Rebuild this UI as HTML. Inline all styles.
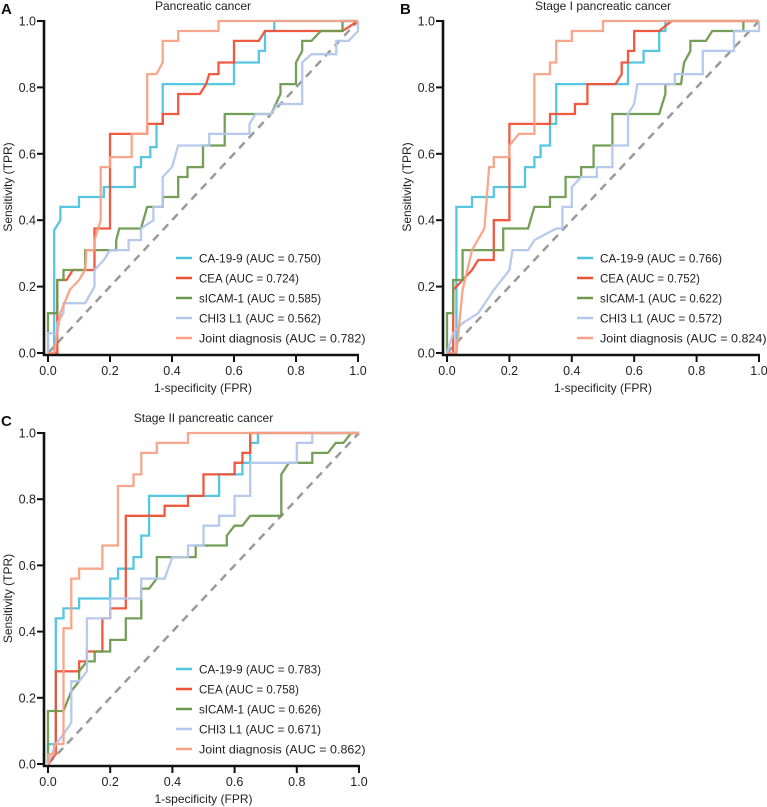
<!DOCTYPE html>
<html><head><meta charset="utf-8"><style>
body{margin:0;background:#fff;}
svg{display:block;font-family:"Liberation Sans",sans-serif;}
</style></head><body>
<svg id="fig" width="767" height="807" viewBox="0 0 767 807"></svg>
<script>
const seriesNames = ["CA-19-9","CEA","sICAM-1","CHI3 L1","Joint diagnosis"];
const panelTitles = ["Pancreatic cancer","Stage I pancreatic cancer","Stage II pancreatic cancer"];
const panelLetters = ["A","B","C"];
const aucA = ["0.750","0.724","0.585","0.562","0.782"];
const aucB = ["0.766","0.752","0.622","0.572","0.824"];
const aucC = ["0.783","0.758","0.626","0.671","0.862"];
const ticks = [0,0.2,0.4,0.6,0.8,1.0];
const tickLabels = ["0.0","0.2","0.4","0.6","0.8","1.0"];

const A_ca = [[0,0],[0.02,0],[0.02,0.37],[0.04,0.4],[0.04,0.44],[0.1,0.44],[0.1,0.47],[0.18,0.47],[0.18,0.5],[0.28,0.5],[0.28,0.56],[0.3,0.56],[0.3,0.59],[0.33,0.59],[0.33,0.62],[0.35,0.62],[0.35,0.69],[0.37,0.69],[0.37,0.81],[0.6,0.81],[0.6,0.875],[0.68,0.875],[0.68,0.91],[0.7,0.91],[0.7,0.97],[0.73,0.97],[0.73,1],[1,1]];
const A_cea = [[0,0],[0.03,0],[0.03,0.22],[0.06,0.22],[0.08,0.25],[0.15,0.25],[0.15,0.375],[0.2,0.375],[0.2,0.66],[0.32,0.66],[0.32,0.69],[0.37,0.69],[0.37,0.72],[0.42,0.72],[0.42,0.78],[0.49,0.78],[0.51,0.81],[0.52,0.84],[0.55,0.84],[0.55,0.875],[0.6,0.875],[0.6,0.94],[0.68,0.94],[0.7,0.97],[0.95,0.97],[1,1]];
const A_sicam = [[0,0],[0,0.12],[0.03,0.12],[0.03,0.22],[0.05,0.22],[0.05,0.25],[0.12,0.25],[0.12,0.31],[0.22,0.31],[0.22,0.34],[0.23,0.375],[0.3,0.375],[0.32,0.44],[0.37,0.44],[0.37,0.47],[0.42,0.47],[0.42,0.53],[0.45,0.53],[0.45,0.56],[0.5,0.56],[0.5,0.625],[0.57,0.625],[0.57,0.72],[0.72,0.72],[0.75,0.78],[0.75,0.81],[0.8,0.81],[0.8,0.875],[0.82,0.91],[0.82,0.94],[0.85,0.94],[0.88,0.97],[0.95,0.97],[0.95,1],[1,1]];
const A_chi = [[0,0],[0,0.06],[0.03,0.06],[0.03,0.09],[0.05,0.12],[0.05,0.15],[0.12,0.15],[0.15,0.2],[0.15,0.25],[0.18,0.28],[0.2,0.31],[0.26,0.31],[0.26,0.34],[0.3,0.34],[0.3,0.375],[0.34,0.4],[0.34,0.44],[0.37,0.44],[0.37,0.53],[0.4,0.56],[0.42,0.625],[0.52,0.625],[0.52,0.66],[0.65,0.66],[0.65,0.69],[0.67,0.72],[0.72,0.72],[0.74,0.75],[0.82,0.75],[0.82,0.875],[0.85,0.9],[0.93,0.9],[0.93,0.94],[0.97,0.94],[1,0.97],[1,1]];
const A_joint = [[0,0],[0.02,0],[0.04,0.12],[0.07,0.19],[0.1,0.22],[0.12,0.25],[0.124,0.31],[0.15,0.31],[0.15,0.34],[0.17,0.4],[0.17,0.56],[0.2,0.56],[0.2,0.59],[0.27,0.59],[0.27,0.66],[0.32,0.66],[0.32,0.84],[0.35,0.84],[0.37,0.875],[0.37,0.94],[0.42,0.94],[0.42,0.97],[0.55,0.97],[0.55,1],[1,1]];

const B_ca = [[0,0],[0.03,0],[0.03,0.44],[0.08,0.44],[0.08,0.47],[0.15,0.47],[0.15,0.5],[0.25,0.5],[0.25,0.56],[0.28,0.56],[0.28,0.59],[0.3,0.59],[0.3,0.625],[0.33,0.625],[0.33,0.69],[0.35,0.69],[0.35,0.81],[0.58,0.81],[0.58,0.875],[0.63,0.875],[0.63,0.91],[0.68,0.91],[0.68,0.97],[0.7,0.97],[0.7,1],[1,1]];
const B_cea = [[0,0],[0.02,0],[0.02,0.19],[0.05,0.22],[0.08,0.25],[0.1,0.28],[0.15,0.28],[0.15,0.4],[0.2,0.4],[0.2,0.69],[0.33,0.69],[0.33,0.72],[0.41,0.72],[0.41,0.75],[0.45,0.75],[0.45,0.81],[0.54,0.81],[0.56,0.84],[0.56,0.875],[0.58,0.875],[0.58,0.91],[0.6,0.91],[0.6,0.97],[0.68,0.97],[0.72,1],[1,1]];
const B_sicam = [[0,0],[0,0.12],[0.02,0.12],[0.02,0.22],[0.05,0.22],[0.05,0.31],[0.18,0.31],[0.18,0.375],[0.26,0.375],[0.28,0.44],[0.33,0.44],[0.33,0.47],[0.38,0.47],[0.38,0.53],[0.43,0.53],[0.43,0.56],[0.47,0.56],[0.47,0.625],[0.53,0.625],[0.53,0.72],[0.68,0.72],[0.7,0.78],[0.7,0.81],[0.75,0.81],[0.76,0.875],[0.78,0.91],[0.78,0.94],[0.83,0.94],[0.85,0.97],[0.95,0.97],[0.95,1],[1,1]];
const B_chi = [[0,0],[0.02,0.06],[0.05,0.09],[0.1,0.12],[0.15,0.19],[0.2,0.25],[0.21,0.31],[0.26,0.31],[0.28,0.34],[0.35,0.375],[0.37,0.375],[0.37,0.44],[0.4,0.44],[0.4,0.5],[0.43,0.53],[0.48,0.53],[0.48,0.56],[0.53,0.56],[0.53,0.625],[0.58,0.625],[0.58,0.72],[0.6,0.75],[0.61,0.81],[0.73,0.81],[0.73,0.84],[0.82,0.84],[0.82,0.91],[0.92,0.91],[0.92,0.97],[1,0.97],[1,1]];
const B_joint = [[0,0],[0.03,0],[0.05,0.19],[0.08,0.31],[0.12,0.375],[0.135,0.56],[0.15,0.56],[0.15,0.59],[0.2,0.59],[0.2,0.625],[0.23,0.66],[0.28,0.66],[0.28,0.84],[0.33,0.84],[0.33,0.875],[0.35,0.875],[0.35,0.94],[0.4,0.94],[0.4,0.97],[0.5,0.97],[0.5,1],[1,1]];

const C_ca = [[0,0],[0,0.06],[0.025,0.06],[0.025,0.44],[0.05,0.44],[0.05,0.47],[0.1,0.47],[0.1,0.5],[0.2,0.5],[0.2,0.56],[0.225,0.56],[0.225,0.59],[0.275,0.59],[0.275,0.625],[0.3,0.625],[0.3,0.69],[0.325,0.69],[0.325,0.81],[0.55,0.81],[0.55,0.875],[0.625,0.875],[0.625,0.91],[0.65,0.91],[0.65,0.97],[0.675,0.97],[0.675,1],[1,1]];
const C_cea = [[0,0],[0.025,0.03],[0.025,0.28],[0.1,0.28],[0.1,0.31],[0.125,0.31],[0.125,0.34],[0.175,0.34],[0.175,0.44],[0.2,0.44],[0.2,0.47],[0.25,0.47],[0.25,0.75],[0.375,0.75],[0.375,0.78],[0.45,0.78],[0.45,0.81],[0.5,0.81],[0.5,0.875],[0.6,0.875],[0.6,0.91],[0.625,0.91],[0.625,0.94],[0.65,0.94],[0.65,1],[1,1]];
const C_sicam = [[0,0],[0,0.16],[0.05,0.16],[0.075,0.22],[0.1,0.25],[0.1,0.28],[0.125,0.31],[0.15,0.31],[0.15,0.34],[0.2,0.34],[0.2,0.375],[0.25,0.375],[0.25,0.44],[0.3,0.44],[0.3,0.53],[0.325,0.53],[0.35,0.56],[0.35,0.625],[0.475,0.625],[0.475,0.66],[0.575,0.66],[0.575,0.69],[0.6,0.72],[0.625,0.72],[0.65,0.75],[0.75,0.75],[0.75,0.875],[0.775,0.91],[0.85,0.91],[0.85,0.94],[0.9,0.94],[0.925,0.97],[0.95,0.97],[0.975,1],[1,1]];
const C_chi = [[0,0],[0.025,0.06],[0.05,0.09],[0.075,0.125],[0.075,0.25],[0.1,0.25],[0.125,0.28],[0.125,0.44],[0.2,0.44],[0.2,0.5],[0.3,0.5],[0.3,0.56],[0.375,0.56],[0.4,0.625],[0.45,0.625],[0.45,0.66],[0.5,0.66],[0.5,0.72],[0.55,0.72],[0.55,0.75],[0.6,0.75],[0.6,0.81],[0.65,0.81],[0.65,0.91],[0.8,0.91],[0.8,0.97],[0.85,0.97],[0.85,1],[1,1]];
const C_joint = [[0,0],[0,0.03],[0.02,0.03],[0.02,0.06],[0.05,0.06],[0.05,0.41],[0.075,0.41],[0.075,0.56],[0.1,0.56],[0.1,0.59],[0.175,0.59],[0.175,0.66],[0.225,0.66],[0.225,0.84],[0.275,0.84],[0.275,0.875],[0.3,0.875],[0.3,0.94],[0.35,0.94],[0.35,0.97],[0.45,0.97],[0.45,1],[1,1]];

const colors = ["#4ec3e0","#ef5136","#6e9a4f","#b3c6ec","#f8a186"];
const NS = "http://www.w3.org/2000/svg";
const svg = document.getElementById("fig");
function mk(tag, attrs, parent){const e=document.createElementNS(NS,tag);for(const k in attrs)e.setAttribute(k,attrs[k]);(parent||svg).appendChild(e);return e;}

const panels = [
 {x0:48,x1:358,y0:353,y1:21,leg:176,legY:258,series:[A_ca,A_cea,A_sicam,A_chi,A_joint],auc:aucA},
 {x0:447,x1:759,y0:353,y1:21,leg:577,legY:258,series:[B_ca,B_cea,B_sicam,B_chi,B_joint],auc:aucB},
 {x0:48,x1:359,y0:764,y1:433,leg:176,legY:669,series:[C_ca,C_cea,C_sicam,C_chi,C_joint],auc:aucC}
];

panels.forEach((p,pi)=>{
  const g = mk("g",{});
  
  
  const sx = v => p.x0 + v*(p.x1-p.x0);
  const sy = v => p.y0 - v*(p.y0-p.y1);
  const cx = (p.x0+p.x1)/2;
  const t = mk("text",{x:cx,y:p.y1-11,"text-anchor":"middle","font-size":"12",fill:"#222"},g);
  t.textContent = panelTitles[pi];
  
  
  const L = mk("text",{x:p.x0-47,y:p.y1-7,"font-size":"15","font-weight":"bold",fill:"#111"},g);
  L.textContent = panelLetters[pi];
  
  
  const d = mk("line",{x1:sx(0),y1:sy(0),x2:sx(1),y2:sy(1),stroke:"#9a9a9a","stroke-width":"2.5","stroke-dasharray":"8 6"},g);
  
  
  p.series.forEach((pts,si)=>{
    const pl = mk("polyline",{points:pts.map(q=>sx(q[0]).toFixed(1)+","+sy(q[1]).toFixed(1)).join(" "),fill:"none",stroke:colors[si],"stroke-width":"2.3","stroke-linejoin":"miter","stroke-opacity":"0.95"},g);
    
    
  });
  const ya = mk("line",{x1:p.x0-4,y1:p.y1-1,x2:p.x0-4,y2:p.y0+3,stroke:"#111","stroke-width":"2.6"},g);
  
  
  const xa = mk("line",{x1:p.x0-5,y1:p.y0+2,x2:p.x1+1,y2:p.y0+2,stroke:"#111","stroke-width":"2.6"},g);
  
  
  ticks.forEach((v,i)=>{
    const ty = mk("line",{x1:p.x0-11,y1:sy(v),x2:p.x0-4,y2:sy(v),stroke:"#111","stroke-width":"2"},g);
    
    
    const tl = mk("text",{x:p.x0-12,y:sy(v)+4.5,"text-anchor":"end","font-size":"12.5",fill:"#222"},g);
    tl.textContent = tickLabels[i];
    
    
    const tx = mk("line",{x1:sx(v),y1:p.y0+2,x2:sx(v),y2:p.y0+9,stroke:"#111","stroke-width":"2"},g);
    
    
    const xl = mk("text",{x:sx(v),y:p.y0+22,"text-anchor":"middle","font-size":"12.5",fill:"#222"},g);
    xl.textContent = tickLabels[i];
    
    
  });
  const xt = mk("text",{x:cx,y:p.y0+39,"text-anchor":"middle","font-size":"12",fill:"#222"},g);
  xt.textContent = "1-specificity (FPR)";
  
  
  const ym = (p.y0+p.y1)/2;
  const yt = mk("text",{x:p.x0-36,y:ym,"text-anchor":"middle","font-size":"12",fill:"#222",transform:"rotate(-90 "+(p.x0-36)+" "+ym+")"},g);
  yt.textContent = "Sensitivity (TPR)";
  
  
  seriesNames.forEach((n,si)=>{
    const yy = p.legY + si*20;
    const ll = mk("line",{x1:p.leg,y1:yy,x2:p.leg+16,y2:yy,stroke:colors[si],"stroke-width":"2.5"},g);
    
    
    const lt = mk("text",{x:p.leg+23,y:yy+4.5,"font-size":"12",fill:"#222",textLength:(n.length+15)*5.55,lengthAdjust:"spacingAndGlyphs"},g);
    lt.textContent = n+" (AUC = "+p.auc[si]+")";
    
    
  });
});
</script>
</body></html>
